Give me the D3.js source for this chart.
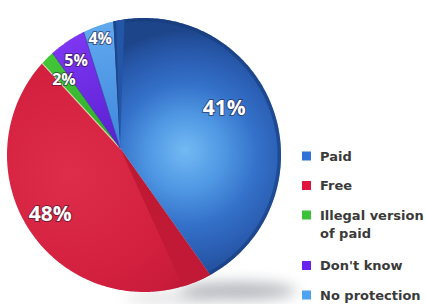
<!DOCTYPE html>
<html><head><meta charset="utf-8">
<script src="https://cdn.jsdelivr.net/npm/d3@7"></script>
<style>html,body{margin:0;padding:0;background:#fff;} svg{display:block}</style>
</head><body>
<svg id="chart" width="426" height="304"></svg>
<script>
// ---- data ----
const categories = ["Paid", "Free", "Illegal version of paid", "Don't know", "No protection"];
const legendLines = [["Paid"], ["Free"], ["Illegal version", "of paid"], ["Don't know"], ["No protection"]];
const values = [41, 48, 2, 5, 4];
const valueLabels = ["41%", "48%", "2%", "5%", "4%"];

// ---- styles / layout ----
const legendColors = ["#2f72d8", "#e0143c", "#3cc23a", "#6a22ee", "#4ea2f0"];
const labelFrac = [0.72, 0.78, 0.77, 0.83, 0.9];
const labelShift = [-2.5, -4, 0, 0, 0];   // degrees
const labelSize = [21, 21, 16, 16, 16];

const svg = d3.select("#chart");
const defs = svg.append("defs");

const apex = [120, 148];             // point where the slices meet (perspective)
const rim = {cx: 144, cy: 155, r: 137};
const rotation = -3 * Math.PI / 180;
const deg = Math.PI / 180;

const pie = d3.pie().sort(null).value(d => d)
  .startAngle(rotation).endAngle(rotation + 2 * Math.PI);
const arcs = pie(values);

function rimDist(theta) {
  const ux = Math.sin(theta), uy = -Math.cos(theta);
  const dx = apex[0] - rim.cx, dy = apex[1] - rim.cy;
  const b = dx * ux + dy * uy;
  const c = dx * dx + dy * dy - rim.r * rim.r;
  return -b + Math.sqrt(b * b - c);
}
function pt(theta, f = 1) {
  const t = rimDist(theta) * f;
  return [apex[0] + t * Math.sin(theta), apex[1] - t * Math.cos(theta)];
}
function rimPts(a0, a1) {
  const n = Math.max(2, Math.ceil((a1 - a0) / 0.015));
  return d3.range(n + 1).map(i => pt(a0 + (a1 - a0) * i / n));
}
function wedge(a0, a1) {
  return d3.line()([apex, ...rimPts(a0, a1)]) + "Z";
}

// shadow filter
const blur = defs.append("filter").attr("id", "blur").attr("x", "-50%").attr("y", "-100%").attr("width", "200%").attr("height", "300%");
blur.append("feGaussianBlur").attr("stdDeviation", 7);

// gradients
function radial(id, cx, cy, r, stops, fx, fy) {
  const g = defs.append("radialGradient").attr("id", id).attr("gradientUnits", "userSpaceOnUse")
    .attr("cx", cx).attr("cy", cy).attr("r", r).attr("fx", fx ?? cx).attr("fy", fy ?? cy);
  stops.forEach(s => g.append("stop").attr("offset", s[0]).attr("stop-color", s[1]));
  return `url(#${id})`;
}
const fills = [
  radial("gBlue", 188, 158, 128, [[0, "#72baf3"], [0.3, "#4f97e3"], [0.55, "#3471c9"], [0.75, "#2b5fb4"], [0.9, "#24519f"], [1, "#1d4589"]], 185, 150),
  radial("gRed", 70, 175, 175, [[0, "#de2c4b"], [0.6, "#d3203f"], [0.85, "#c81b3a"], [1, "#a81330"]]),
  radial("gGreen", 120, 148, 130, [[0, "#2fa82a"], [1, "#45c93a"]]),
  radial("gPurple", 120, 148, 130, [[0, "#5a1fd0"], [1, "#8038f4"]]),
  radial("gLight", 120, 148, 130, [[0, "#3f86dc"], [1, "#62aaef"]])
];

// shadows under the pie
svg.append("ellipse").attr("cx", 238).attr("cy", 291).attr("rx", 58).attr("ry", 9)
  .attr("fill", "#7a7f88").attr("opacity", 0.55).attr("filter", "url(#blur)");
svg.append("ellipse").attr("cx", 170).attr("cy", 298).attr("rx", 45).attr("ry", 5)
  .attr("fill", "#9a9aa2").attr("opacity", 0.35).attr("filter", "url(#blur)");

// slices (non-blue first)
const order = [1, 2, 3, 4, 0];
order.forEach(i => {
  const a = arcs[i];
  svg.append("path").attr("d", wedge(a.startAngle, a.endAngle)).attr("fill", fills[i]);
});

// red wall next to the blue slice
const wallRed = arcs[1].startAngle;
const gWall = defs.append("linearGradient").attr("id", "gWallRed").attr("gradientUnits", "userSpaceOnUse")
  .attr("x1", apex[0]).attr("y1", apex[1]).attr("x2", pt(wallRed)[0]).attr("y2", pt(wallRed)[1]);
gWall.append("stop").attr("offset", 0).attr("stop-color", "#b8162f");
gWall.append("stop").attr("offset", 1).attr("stop-color", "#c21a36");
svg.append("path").attr("d", wedge(wallRed, wallRed + 11 * deg)).attr("fill", "url(#gWallRed)").attr("opacity", 0.85);

// blue slice rim darkening
const blue = arcs[0];
defs.append("clipPath").attr("id", "clipBlue").append("path").attr("d", wedge(blue.startAngle, blue.endAngle));
svg.append("path").attr("d", d3.line()(rimPts(blue.startAngle, blue.endAngle)))
  .attr("fill", "none").attr("stroke", "#183c7a").attr("stroke-width", 7).attr("opacity", 0.6)
  .attr("clip-path", "url(#clipBlue)");
// blue wall (side face)
svg.append("path").attr("d", wedge(blue.startAngle, blue.startAngle + 5 * deg)).attr("fill", "#2356a6");
svg.append("path").attr("d", wedge(blue.startAngle, blue.startAngle + 1.2 * deg)).attr("fill", "#1c4688");

// thin separators for small slices
[2, 3, 4].forEach(i => {
  const p = pt(arcs[i].startAngle);
  svg.append("line").attr("x1", apex[0]).attr("y1", apex[1]).attr("x2", p[0]).attr("y2", p[1])
    .attr("stroke", i === 2 ? "#f0e8c8" : "#2a2a9a").attr("stroke-width", i === 2 ? 1.2 : 1).attr("opacity", 0.7);
});

// value labels
arcs.forEach((a, i) => {
  const mid = (a.startAngle + a.endAngle) / 2 + labelShift[i] * deg;
  const p = pt(mid, labelFrac[i]);
  svg.append("text").attr("x", p[0]).attr("y", p[1])
    .attr("text-anchor", "middle").attr("dominant-baseline", "central")
    .attr("font-family", "'Open Sans', sans-serif").attr("font-weight", 700)
    .attr("font-size", labelSize[i])
    .attr("fill", "#ffffff").attr("stroke", "rgba(40,20,50,0.55)").attr("stroke-width", 2)
    .attr("paint-order", "stroke")
    .text(valueLabels[i]);
});

// legend
const lg = svg.append("g").attr("font-family", "'DejaVu Sans', sans-serif").attr("font-size", 13)
  .attr("font-weight", 700).attr("fill", "#3a3a3a");
let y = 156;
categories.forEach((c, i) => {
  lg.append("rect").attr("x", 302).attr("y", y - 4.5).attr("width", 9).attr("height", 9)
    .attr("fill", legendColors[i]);
  legendLines[i].forEach((ln, j) => {
    lg.append("text").attr("x", 320).attr("y", y + 4.5 + 18 * j).text(ln);
  });
  y += 29.5 + 21 * (legendLines[i].length - 1);
});
</script>
</body></html>
